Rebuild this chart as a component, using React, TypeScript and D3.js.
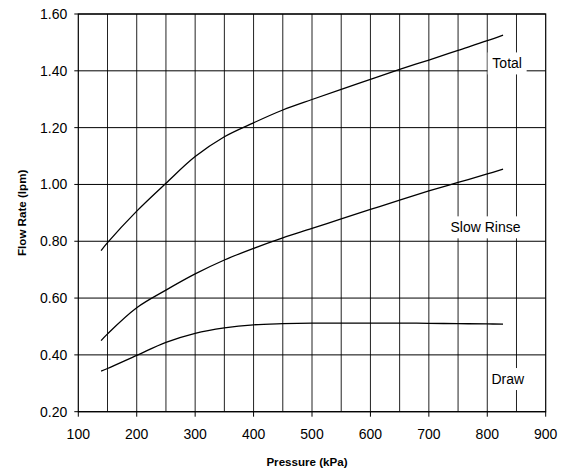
import React from "react";
import * as d3 from "d3";

const pressure = [139, 150, 200, 250, 300, 350, 400, 450, 500, 550, 600, 650, 700, 750, 800, 827];
const totalFlow = [0.767, 0.795, 0.906, 1.004, 1.098, 1.168, 1.217, 1.262, 1.299, 1.335, 1.37, 1.405, 1.438, 1.472, 1.506, 1.526];
const slowRinseFlow = [0.45, 0.474, 0.566, 0.628, 0.685, 0.734, 0.775, 0.812, 0.845, 0.879, 0.912, 0.945, 0.977, 1.007, 1.037, 1.054];
const drawFlow = [0.343, 0.352, 0.398, 0.444, 0.476, 0.495, 0.506, 0.51, 0.512, 0.512, 0.512, 0.512, 0.511, 0.51, 0.509, 0.508];

const xTicks = [100, 200, 300, 400, 500, 600, 700, 800, 900];
const xGrid = [150, 200, 250, 300, 350, 400, 450, 500, 550, 600, 650, 700, 750, 800, 850];
const yTicks = [0.2, 0.4, 0.6, 0.8, 1.0, 1.2, 1.4, 1.6];

const seriesNames = ["Total", "Slow Rinse", "Draw"];
const seriesValues = [totalFlow, slowRinseFlow, drawFlow];
const labelAnchors = [
  [834, 1.426],
  [797, 0.849],
  [835, 0.315],
];

const W = 577;
const H = 474;
const FONT = "'Liberation Sans', Arial, sans-serif";

export default function App() {
  const x = d3.scaleLinear().domain([100, 900]).range([78.3, 545.7]);
  const y = d3.scaleLinear().domain([0.2, 1.6]).range([411.7, 14]);
  const line = d3
    .line<[number, number]>()
    .x((d) => x(d[0]))
    .y((d) => y(d[1]))
    .curve(d3.curveCatmullRom.alpha(0.5));

  const left = x(100);
  const right = x(900);
  const top = y(1.6);
  const bottom = y(0.2);

  const labelW = [39, 79, 39];

  return (
    <svg
      width={W}
      height={H}
      style={{ position: "absolute", left: 0, top: 0, background: "#fff" }}
      fontFamily={FONT}
    >
      <rect x={0} y={0} width={W} height={H} fill="#fff" />
      {xGrid.map((g) => (
        <line key={"vx" + g} x1={x(g)} x2={x(g)} y1={top} y2={bottom} stroke="#222" strokeWidth={1} />
      ))}
      {yTicks.map((t) => (
        <line key={"hy" + t} x1={left - 4} x2={right} y1={y(t)} y2={y(t)} stroke="#000" strokeWidth={1} />
      ))}
      {xTicks.map((t) => (
        <line key={"tx" + t} x1={x(t)} x2={x(t)} y1={bottom} y2={bottom + 5} stroke="#000" strokeWidth={1} />
      ))}
      <rect x={left} y={top} width={right - left} height={bottom - top} fill="none" stroke="#000" strokeWidth={1.2} />

      {seriesValues.map((vals, i) => (
        <path
          key={"s" + i}
          d={line(pressure.map((p, j) => [p, vals[j]] as [number, number])) || ""}
          fill="none"
          stroke="#000"
          strokeWidth={1.3}
        />
      ))}

      {seriesNames.map((name, i) => {
        const cx = x(labelAnchors[i][0]);
        const cy = y(labelAnchors[i][1]);
        return (
          <g key={"l" + i}>
            <rect x={cx - labelW[i] / 2} y={cy - 11} width={labelW[i]} height={22} fill="#fff" />
            <text x={cx} y={cy} textAnchor="middle" dominantBaseline="central" fontSize={14} fill="#000">
              {name}
            </text>
          </g>
        );
      })}

      {yTicks.map((t) => (
        <text key={"yl" + t} x={left - 11} y={y(t)} textAnchor="end" dominantBaseline="central" fontSize={14} fill="#000">
          {t.toFixed(2)}
        </text>
      ))}
      {xTicks.map((t) => (
        <text key={"xl" + t} x={x(t)} y={439} textAnchor="middle" fontSize={14} fill="#000">
          {t}
        </text>
      ))}
      <text x={307} y={466} textAnchor="middle" fontSize={11.6} fontWeight="bold" fill="#000">
        Pressure (kPa)
      </text>
      <text
        transform={`translate(25.5, ${(top + bottom) / 2}) rotate(-90)`}
        textAnchor="middle"
        fontSize={11.6}
        fontWeight="bold"
        fill="#000"
      >
        Flow Rate (lpm)
      </text>
    </svg>
  );
}
